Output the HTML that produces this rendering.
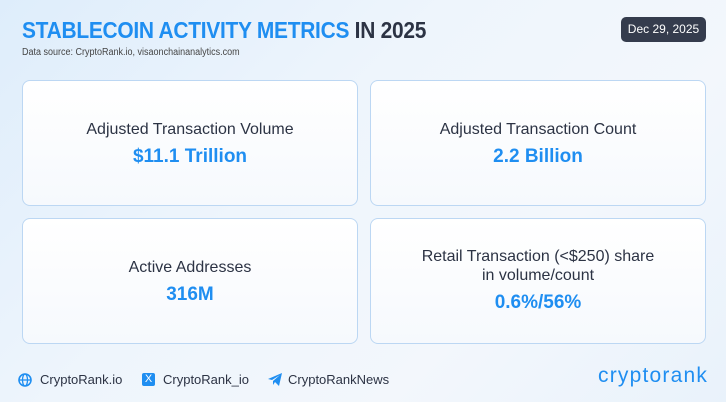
<!DOCTYPE html>
<html><head><meta charset="utf-8"><style>
body{margin:0;width:726px;height:402px;overflow:hidden;font-family:"Liberation Sans",sans-serif;background:linear-gradient(135deg,#deedfb 0%,#eef5fc 40%,#f3f7fc 70%,#e9f2fb 100%);position:relative}
.title{position:absolute;left:22px;top:17px;font-size:23px;font-weight:bold;color:#2c3344;white-space:nowrap;transform:scaleX(0.91);transform-origin:left top;letter-spacing:-0.3px}
.title span{color:#1f8ef1}
.src{position:absolute;left:22px;top:47px;font-size:10px;color:#444;transform:scaleX(0.9);transform-origin:left top}
.date{position:absolute;left:621px;top:17px;width:85px;height:25px;background:#353c4d;border-radius:5px;color:#fff;font-size:12px;line-height:25px;text-align:center}
.card{position:absolute;width:334px;height:124px;background:linear-gradient(180deg,#ffffff,#f6f9fd);border:1px solid #bcd7f3;border-radius:8px;text-align:center;color:#2c3344}
.lab{font-size:16px;line-height:19px}
.val{font-size:19px;font-weight:bold;color:#1f8ef1;margin-top:7px}
.foot{position:absolute;top:372px;font-size:13px;color:#2c3344}
.logo{position:absolute;left:598px;top:364px;font-size:21px;color:#1f8ef1;letter-spacing:1.2px}
</style></head><body>
<div class="title"><span>STABLECOIN ACTIVITY METRICS</span> IN 2025</div>
<div class="src">Data source: CryptoRank.io, visaonchainanalytics.com</div>
<div class="date">Dec 29, 2025</div>
<div class="card" style="left:22px;top:80px"><div style="margin-top:39px" class="lab">Adjusted Transaction Volume</div><div class="val">$11.1 Trillion</div></div>
<div class="card" style="left:370px;top:80px"><div style="margin-top:39px" class="lab">Adjusted Transaction Count</div><div class="val">2.2 Billion</div></div>
<div class="card" style="left:22px;top:218px"><div style="margin-top:39px" class="lab">Active Addresses</div><div class="val">316M</div></div>
<div class="card" style="left:370px;top:218px"><div style="margin-top:28px" class="lab">Retail Transaction (&lt;$250) share<br>in volume/count</div><div class="val">0.6%/56%</div></div>
<svg style="position:absolute;left:18px;top:373px" width="14" height="14" viewBox="0 0 14 14"><circle cx="7" cy="7" r="6" fill="none" stroke="#1f8ef1" stroke-width="1.6"/><ellipse cx="7" cy="7" rx="2.5" ry="6" fill="none" stroke="#1f8ef1" stroke-width="1.3"/><line x1="1" y1="7" x2="13" y2="7" stroke="#1f8ef1" stroke-width="1.3"/></svg>
<div class="foot" style="left:40px">CryptoRank.io</div>
<div style="position:absolute;left:142px;top:373px;width:13px;height:13px;background:#1f8ef1;border-radius:2px;color:#fff;font-size:11px;line-height:13px;text-align:center">X</div>
<div class="foot" style="left:163px">CryptoRank_io</div>
<svg style="position:absolute;left:268px;top:373px" width="14" height="13" viewBox="0 0 14 13"><path d="M0 6 L14 0 L11 13 L7 9 L5 12 L5 8 L12 2 L4 7 Z" fill="#1f8ef1"/></svg>
<div class="foot" style="left:288px">CryptoRankNews</div>
<div class="logo">cryptorank</div>
</body></html>
